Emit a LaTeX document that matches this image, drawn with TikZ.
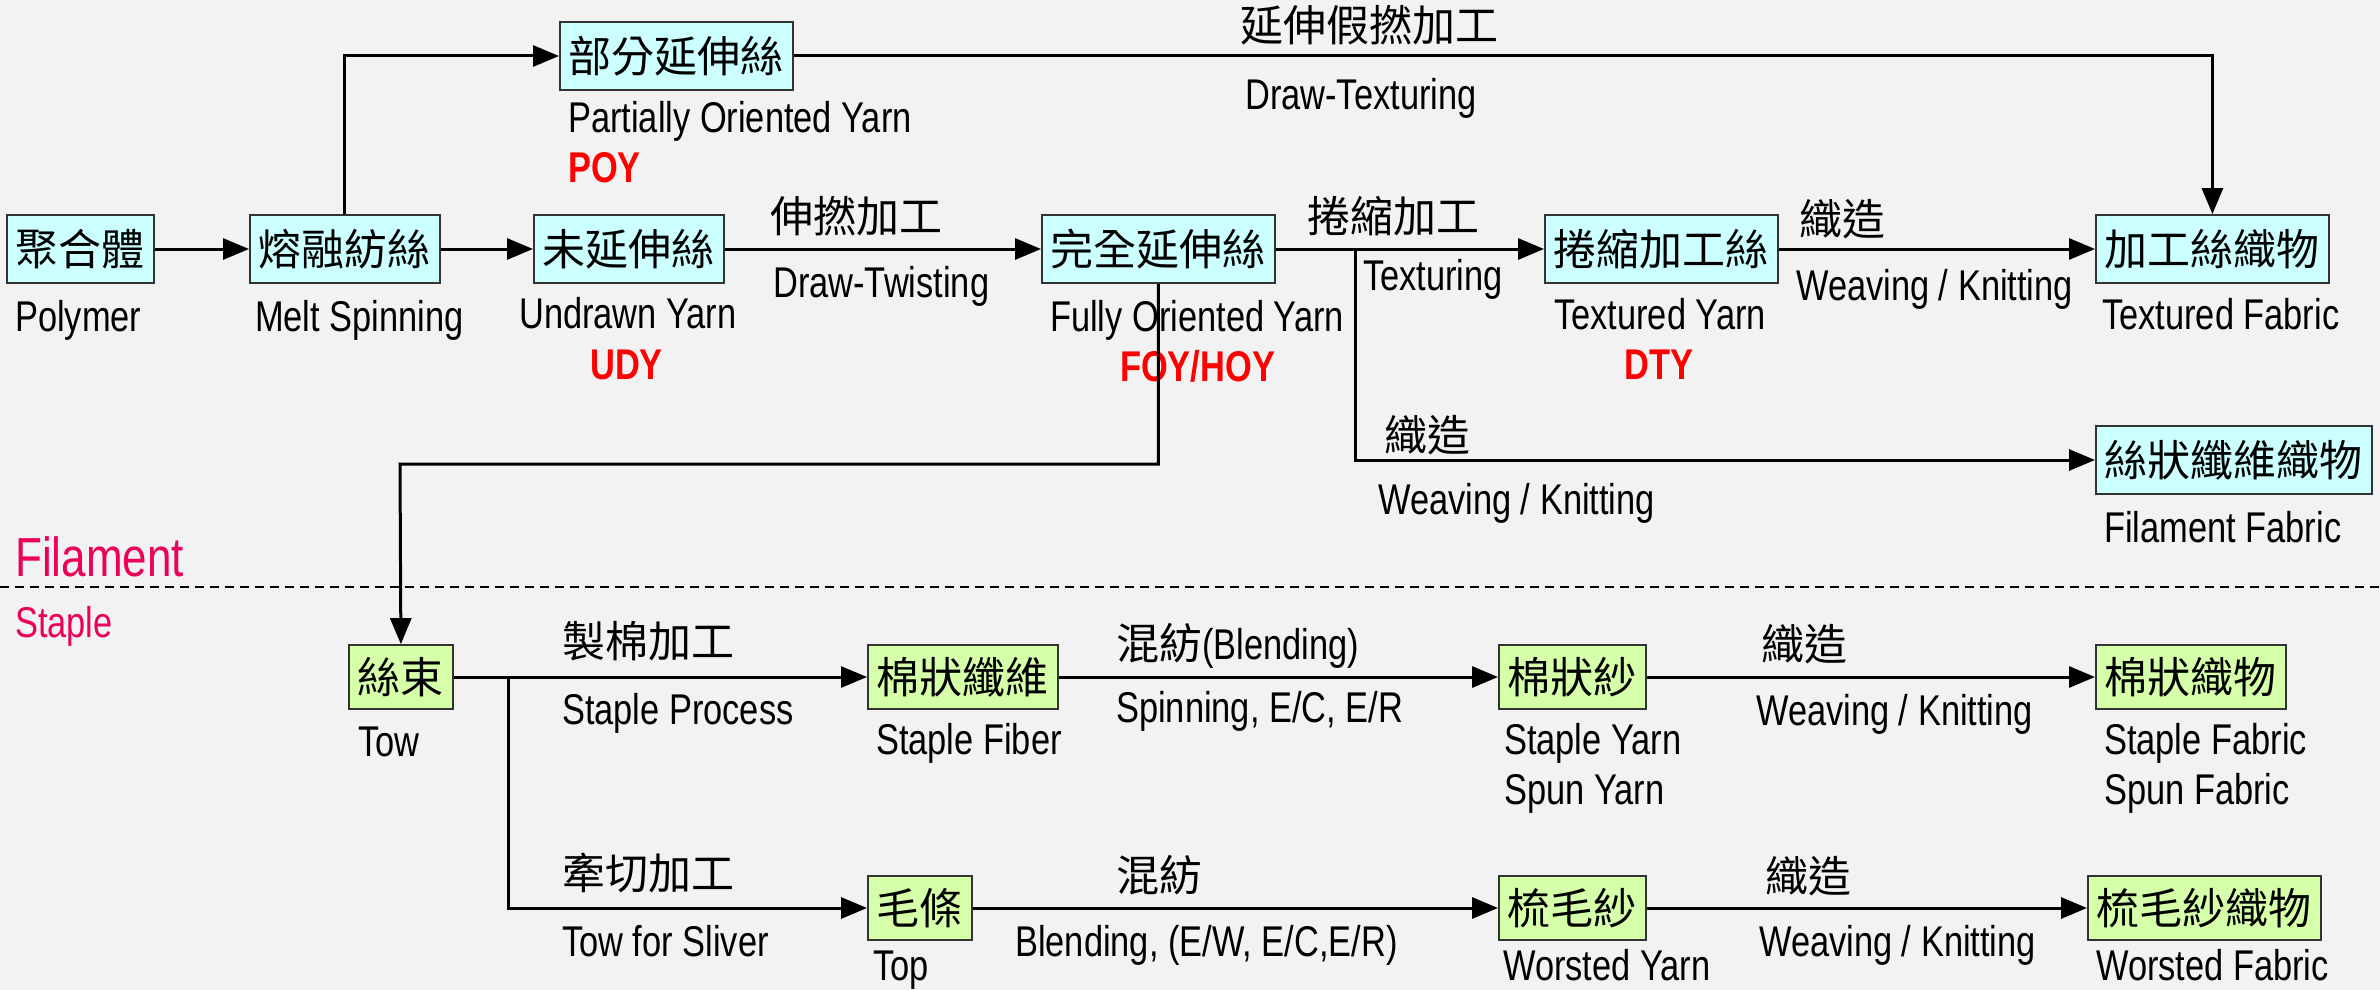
\documentclass[tikz,border=0pt]{standalone}
\usepackage{fontspec}
\setmainfont[FakeStretch=0.8]{Liberation Sans}
\newfontfamily\cjk{Noto Sans CJK TC}
\usetikzlibrary{arrows.meta}
\definecolor{bgc}{RGB}{242,242,242}
\definecolor{cyanbox}{RGB}{204,255,255}
\definecolor{greenbox}{RGB}{214,255,170}
\definecolor{pinkred}{RGB}{235,0,90}
\tikzset{
 lab/.style={anchor=base west, inner sep=0pt, font=\fontsize{43}{50}\selectfont},
 cj/.style={anchor=base west, inner sep=0pt, font=\fontsize{43}{50}\selectfont\cjk},
 code/.style={anchor=base west, inner sep=0pt, font=\fontsize{43}{50}\selectfont\bfseries, text=red},
 fbox/.style={draw=black!80, line width=1.8pt, fill=cyanbox, inner xsep=9pt, inner ysep=0pt, minimum height=68pt, anchor=west, font=\fontsize{43}{50}\selectfont\cjk},
 sbox/.style={fbox, fill=greenbox, minimum height=64pt},
 arr/.style={line width=3pt, -{Triangle[length=26pt,width=21pt]}},
 ln/.style={line width=3pt}
}
\begin{document}
\begin{tikzpicture}[x=1pt,y=-1pt]
\fill[bgc] (0,0) rectangle (2380,990);
\useasboundingbox (0,0) rectangle (2380,990);
% top rows boxes
\node[fbox] (poly) at (6,249) {聚合體};
\node[fbox] (melt) at (249,249) {熔融紡絲};
\node[fbox] (udy) at (533,249) {未延伸絲};
\node[fbox] (foy) at (1041,249) {完全延伸絲};
\node[fbox] (dty) at (1544,249) {捲縮加工絲};
\node[fbox] (tfab) at (2095,249) {加工絲織物};
\node[fbox] (poy) at (559,56) {部分延伸絲};
\node[fbox] (ffab) at (2095,460) {絲狀纖維織物};
% staple boxes
\node[sbox] (tow) at (348,677) {絲束};
\node[sbox] (sfib) at (867,677) {棉狀纖維};
\node[sbox] (syarn) at (1498,677) {棉狀紗};
\node[sbox] (sfab) at (2095,677) {棉狀織物};
\node[sbox] (top) at (867,908) {毛條};
\node[sbox] (wyarn) at (1498,908) {梳毛紗};
\node[sbox] (wfab) at (2087,908) {梳毛紗織物};
% labels filament
\node[lab] (l1) at (15,331) {Polymer};
\node[lab] (l2) at (255,331) {Melt Spinning};
\node[lab] (l3) at (519,328) {Undrawn Yarn};
\node[code] (l4) at (590,379) {UDY};
\node[lab] (l5) at (568,132) {Partially Oriented Yarn};
\node[code] (l6) at (568,182) {POY};
\node[cj] (l7) at (1240,42) {延伸假撚加工};
\node[lab] (l8) at (1245,109) {Draw-Texturing};
\node[cj] (l9) at (770,232) {伸撚加工};
\node[lab] (l10) at (773,297) {Draw-Twisting};
\node[lab] (l11) at (1050,331) {Fully Oriented Yarn};
\node[code] (l12) at (1120,381) {FOY/HOY};
\node[cj] (l13) at (1307,232) {捲縮加工};
\node[lab] (l14) at (1363,290) {Texturing};
\node[lab] (l15) at (1554,329) {Textured Yarn};
\node[code] (l16) at (1624,379) {DTY};
\node[cj] (l17) at (1799,235) {織造};
\node[lab] (l18) at (1796,300) {Weaving / Knitting};
\node[lab] (l19) at (2102,329) {Textured Fabric};
\node[cj] (l20) at (1384,451) {織造};
\node[lab] (l21) at (1378,514) {Weaving / Knitting};
\node[lab] (l22) at (2104,542) {Filament Fabric};
\node[anchor=base west, inner sep=0pt, font=\fontsize{55}{60}\selectfont, text=pinkred] (fil) at (15,576) {Filament};
\node[anchor=base west, inner sep=0pt, font=\fontsize{43}{50}\selectfont, text=pinkred] (sta) at (15,637) {Staple};
% labels staple
\node[lab] (m1) at (358,756) {Tow};
\node[cj] (m2) at (562,657) {製棉加工};
\node[lab] (m3) at (562,724) {Staple Process};
\node[lab] (m4) at (876,754) {Staple Fiber};
\node[lab] (m5) at (1116,659) {{\cjk 混紡}(Blending)};
\node[lab] (m6) at (1116,722) {Spinning, E/C, E/R};
\node[lab] (m7) at (1504,754) {Staple Yarn};
\node[lab] (m8) at (1504,804) {Spun Yarn};
\node[cj] (m9) at (1761,660) {織造};
\node[lab] (m10) at (1756,725) {Weaving / Knitting};
\node[lab] (m11) at (2104,754) {Staple Fabric};
\node[lab] (m12) at (2104,804) {Spun Fabric};
\node[cj] (m13) at (562,889) {牽切加工};
\node[lab] (m14) at (562,956) {Tow for Sliver};
\node[lab] (m15) at (873,980) {Top};
\node[cj] (m16) at (1116,891) {混紡};
\node[lab] (m17) at (1015,956) {Blending, (E/W, E/C,E/R)};
\node[lab] (m18) at (1503,980) {Worsted Yarn};
\node[cj] (m19) at (1765,892) {織造};
\node[lab] (m20) at (1759,956) {Weaving / Knitting};
\node[lab] (m21) at (2096,980) {Worsted Fabric};
% connectors filament
\draw[arr] (poly) -- (melt);
\draw[arr] (melt) -- (udy);
\draw[arr] (melt.north) |- (poy.west);
\draw[arr] (udy) -- (foy);
\draw[arr] (poy.east) -| (tfab.north);
\draw[arr] (foy) -- (dty);
\coordinate (br1) at (1355,249);
\draw[arr] (br1) |- (ffab.west);
\draw[arr] (dty) -- (tfab);
\coordinate (turn) at (400,464);
\draw[arr] (foy.south) |- (turn) -- (tow.north);
% divider
\draw[dashed, line width=1.5pt, dash pattern=on 9pt off 6pt] (0,587) -- (2380,587);
% connectors staple
\draw[arr] (tow) -- (sfib);
\coordinate (br2) at (508,677);
\draw[arr] (br2) |- (top.west);
\draw[arr] (sfib) -- (syarn);
\draw[arr] (syarn) -- (sfab);
\draw[arr] (top) -- (wyarn);
\draw[arr] (wyarn) -- (wfab);
\end{tikzpicture}
\end{document}
